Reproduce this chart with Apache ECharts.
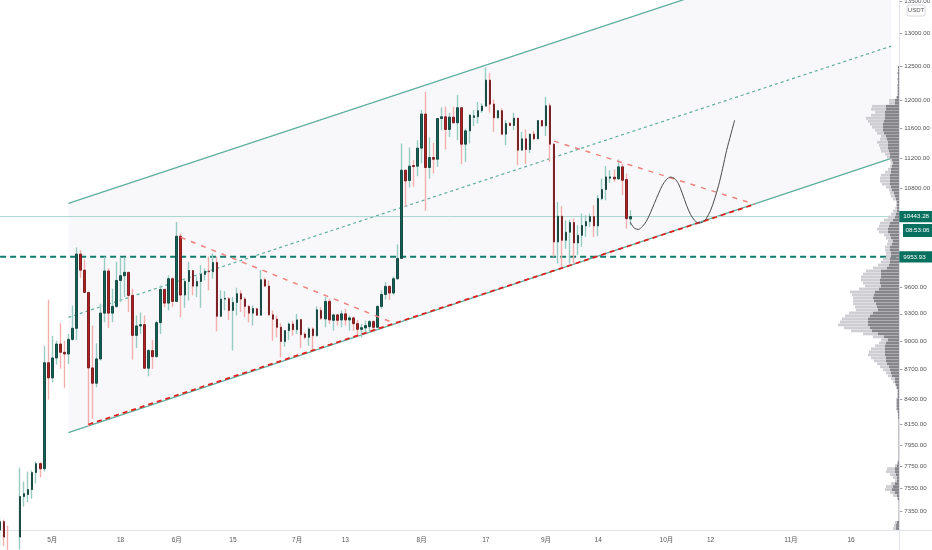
<!DOCTYPE html>
<html><head><meta charset="utf-8">
<style>html,body{margin:0;padding:0;background:#fff}#c{width:932px;height:550px}</style>
<script src="https://cdn.jsdelivr.net/npm/echarts@6/dist/echarts.min.js"></script>
</head><body><div id="c"></div>
<script>
const opens=[7185,7257,7125,6845,6860,7125,7478,7495,7540,7695,7777,7730,8772,8615,8822,8970,8882,8864,9020,9140,9987,9797,9540,8718,8560,8812,9307,9787,9307,9382,9677,9732,9771,9506,9063,9166,9180,8715,8900,8836,9202,9574,9419,9697,9438,10201,9510,9665,9793,9612,9665,9748,9787,9779,9887,9272,9464,9468,9337,9427,9525,9464,9382,9307,9355,9284,9685,9612,9288,9240,9151,8998,9115,9187,9125,9235,9078,9042,9133,9060,9337,9243,9438,9228,9287,9232,9299,9232,9254,9191,9129,9144,9158,9213,9151,9382,9517,9609,9533,9697,9935,11038,10903,11099,11090,11332,11802,11073,11206,11183,11740,11764,11587,11759,11680,11892,11386,11568,11755,11764,11850,11915,12290,11943,11750,11850,11523,11671,11643,11745,11305,11458,11314,11523,11458,11712,11638,11920,11386,10132,10447,10152,10250,10369,10120,10213,10328,10381,10443,10328,10670,10786,10933,10946,10924,11082,10915,10414];
const closes=[7257,7125,6845,6860,7125,7478,7503,7540,7695,7777,7730,8772,8615,8822,8970,8882,8864,9020,9140,9987,9797,9540,8718,8560,8812,9307,9787,9307,9382,9677,9732,9771,9506,9063,9166,9180,8715,8900,8836,9202,9574,9419,9697,9438,10201,9510,9665,9793,9612,9665,9748,9783,9779,9887,9272,9464,9472,9337,9427,9525,9464,9382,9307,9359,9284,9685,9612,9288,9240,9151,8998,9115,9187,9125,9232,9071,9042,9133,9060,9344,9250,9438,9232,9287,9228,9299,9232,9254,9191,9129,9147,9170,9213,9151,9382,9517,9609,9533,9697,9935,11038,10897,11091,11086,11332,11802,11073,11206,11183,11740,11764,11587,11759,11680,11892,11386,11568,11788,11778,11850,11915,12290,11943,11750,11850,11523,11671,11643,11745,11305,11458,11314,11523,11458,11712,11638,11920,11386,10132,10447,10152,10250,10369,10120,10213,10332,10381,10443,10328,10670,10786,10950,10950,10924,11082,10906,10418,10443];
const lows=[7050,7050,6760,6800,6835,7020,7388,7427,7458,7594,7651,7704,8394,8570,8753,8708,8513,8760,9005,9012,9708,9533,8123,8204,8519,8794,9206,9144,9206,9366,9430,9487,9318,8805,8928,9078,8708,8632,8708,8829,9078,9374,9337,9374,9430,9262,9366,9449,9506,9487,9366,9677,9563,9697,9107,9262,9337,9232,8900,9280,9318,9262,9206,9170,9280,9280,9601,9280,9005,9042,8829,8942,9012,9060,9078,8928,9023,8952,8907,9049,9232,9151,9187,9115,9170,9151,9170,9115,9115,9042,9042,9078,9104,9104,9144,9355,9460,9457,9517,9685,9927,10565,10812,10820,10959,11126,10515,10928,10994,11082,11577,11314,11486,11671,11440,11117,11148,11395,11633,11671,11821,11906,11821,11554,11740,11510,11372,11638,11577,11104,11305,11117,11269,11440,11458,11624,11496,11148,9955,9875,9836,10050,9875,9875,9975,10073,10193,10315,10193,10201,10649,10649,10872,10885,10915,10713,10294,10336];
const highs=[7293,7275,7222,6940,7170,7740,7612,7704,7715,7796,7790,8952,9457,9060,9005,9195,9005,9078,9393,10066,10034,9923,9545,9170,8977,9412,9955,9817,9582,9895,9947,9947,9777,9582,9280,9314,9280,8917,9012,9224,9620,9582,9736,9716,10377,10233,9697,9895,9797,9724,9856,9817,9955,9994,9955,9563,9555,9487,9487,9593,9563,9487,9400,9393,9366,9797,9708,9677,9337,9280,9195,9122,9206,9224,9299,9243,9096,9151,9151,9382,9374,9487,9468,9299,9299,9337,9355,9280,9269,9232,9187,9224,9232,9232,9393,9563,9658,9620,9724,10104,11395,11038,11341,11170,11440,11859,12121,11477,11404,11745,11896,11906,11821,11906,12072,11892,11600,11795,11859,11976,11953,12478,12389,12010,11859,11882,11717,11694,11821,11745,11555,11587,11530,11568,11717,11717,12048,11953,11395,10628,10573,10397,10405,10418,10336,10481,10460,10481,10586,10713,10928,11091,11038,11047,11179,11126,10993,10523];

const priceTicks=[13500,13000,12500,12000,11600,11200,10800,9600,9300,9000,8700,8400,8150,7950,7750,7550,7350];
const xTickDates=['2020-05-01','2020-05-18','2020-06-01','2020-06-15','2020-07-01','2020-07-13','2020-08-01','2020-08-17','2020-09-01','2020-09-14','2020-10-01','2020-10-12','2020-11-01','2020-11-16'];
const xTickLabels=['5月','18','6月','15','7月','13','8月','17','9月','14','10月','12','11月','16'];

const lastPrice=10443.28, levelPrice=9953.93, countdown='08:53:06', quote='USDT';
// [day index, price] anchor points of the drawn annotations
const channelLower=[[17,8070],[222,11193]];
const channelUpper=[[17,10610],[222,14685]];
const channelMid=[[17,9260],[222,12799]];
const redSupport=[[22,8149],[188,10598]];
const redFallA=[[45,10188],[98,9199]];
const redFallB=[[138,11427],[188,10598]];
const forecast=[[157,10372],[158,10300],[159,10285],[160,10320],[161,10385],[162,10490],[163,10610],[164,10730],[165,10841],[166,10915],[167,10947],[168,10930],[169,10860],[170,10730],[171,10586],[172,10470],[173,10397],[174,10365],[175,10372],[176,10425],[177,10521],[178,10665],[179,10841],[180,11060],[181,11303],[182,11510],[183,11717]];

// visible-range volume profile, top row first
const vpTotal=[0,0,0,0,0,0,0,0,0,0,0,0,0,0,0,0,0,0,0,0,0,0,1,1,2,1,2,1,2,2,2,2,3,10,10,27,28,24,28,33,31,29,27,24,22,18,19,22,20,19,18,14,12,9,8,9,11,14,18,19,19,17,13,10,9,8,6,3,3,4,6,8,11,15,19,20,22,20,15,13,11,12,14,14,13,13,16,18,21,26,33,36,38,38,36,34,40,49,47,46,46,46,44,43,50,54,57,59,61,55,48,36,26,18,20,24,28,30,31,28,25,22,19,16,13,11,8,6,4,3,2,2,2,3,3,3,3,2,1,1,1,1,1,1,1,1,1,1,1,1,1,1,1,1,2,4,12,13,9,6,4,8,13,14,9,6,2,1,1,1,1,1,1,1,4,5,6];
const vpDark=[0,0,0,0,0,0,0,0,0,0,0,0,0,0,0,0,0,0,0,0,0,0,1,1,1,1,1,1,1,1,1,1,2,4,4,13,13,14,14,14,15,16,16,16,15,13,12,11,11,11,10,9,9,7,6,7,8,8,9,9,9,9,8,7,5,4,3,2,2,2,2,3,4,6,9,10,11,11,9,8,6,7,9,9,8,8,9,9,10,12,18,18,18,19,19,18,20,24,25,26,25,23,22,21,26,29,31,31,31,29,27,21,15,11,13,14,14,14,14,13,13,12,10,9,8,7,4,4,3,2,1,1,1,2,2,2,2,1,1,1,0.6,0.6,0.6,0.6,0.6,0.6,0.6,0.6,0.6,0.6,0.6,0.6,0.6,0.6,1,2,4,4,3,2,2,4,6,7,4,2,1,0.5,0.5,0.5,0.5,0.5,0.5,0.5,2,3,3];
const vpLight=vpTotal.map((t,i)=>Math.max(t-vpDark[i],0));
const vpRows=vpTotal.map((_,i)=>'r'+i);

const dates=[];
{const d=new Date(Date.UTC(2020,3,18));for(let i=0;i<225;i++){dates.push(d.toISOString().slice(0,10));d.setUTCDate(d.getUTCDate()+1);}}

const UP='#0c6457',DOWN='#b5201f',UPW='#98cbc2',DOWNW='#f4aeac',TEAL='#5fae9f',TAG='#08705f';
const sans="'Liberation Sans','Noto Sans CJK SC',sans-serif";
const wickData=opens.map((o,i)=>[o,closes[i],lows[i],highs[i]]);
const bodyData=opens.map((o,i)=>[o,closes[i],Math.min(o,closes[i]),Math.max(o,closes[i])]);
const endIdx=dates.length-1;

function line(data,color,width,type,z,extra){
  return Object.assign({type:'line',xAxisIndex:0,yAxisIndex:0,data,showSymbol:false,symbol:'none',silent:true,
    lineStyle:{color,width,type},z},extra||{});
}
function tag(text){
  return {show:true,formatter:text,distance:0,color:'#fff',backgroundColor:TAG,fontFamily:sans,fontSize:6.2,
    padding:[3,3,2,4],width:26,align:'left'};
}

const chart=echarts.init(document.getElementById('c'),null,{renderer:'canvas'});
chart.setOption({
  animation:false,backgroundColor:'#fff',
  grid:[
    {left:-1.89,top:0,width:903.15,height:530,outerBoundsMode:'none'},
    {left:779,top:0,width:120,height:530,outerBoundsMode:'none'}
  ],
  xAxis:[
    {type:'category',gridIndex:0,data:dates,boundaryGap:true,
      axisLine:{show:false},axisTick:{show:false},splitLine:{show:false},
      axisLabel:{show:true,interval:(i,v)=>xTickDates.includes(v),
        formatter:v=>xTickLabels[xTickDates.indexOf(v)]||'',color:'#555',fontSize:6.5,fontFamily:sans,margin:7,hideOverlap:false}},
    {type:'value',gridIndex:1,inverse:true,min:0,max:120,show:false}
  ],
  yAxis:[
    {type:'log',logBase:10,gridIndex:0,position:'right',min:7185,max:13523,offset:-1.96,
      axisLine:{show:false},splitLine:{show:false},minorTick:{show:false},minorSplitLine:{show:false},
      axisTick:{show:true,length:3,lineStyle:{color:'#9a9ea8',width:1},customValues:priceTicks},
      axisLabel:{color:'#555',fontSize:6.2,fontFamily:sans,margin:5,customValues:priceTicks,formatter:v=>Number(v).toFixed(2)}},
    {type:'category',gridIndex:1,data:vpRows,inverse:true,show:false}
  ],
  series:[
    {type:'custom',xAxisIndex:0,yAxisIndex:0,z:1,silent:true,clip:true,data:[[channelLower[0][0],channelLower[0][1]]],
      renderItem:(p,api)=>{
        const pts=[channelLower[0],channelLower[1],channelUpper[1],channelUpper[0]].map(a=>api.coord(a));
        return {type:'polygon',shape:{points:pts},style:{fill:'#f8f8fb'}};
      }},
    line(channelLower,TEAL,1.3,'solid',3),
    line(channelUpper,TEAL,1.3,'solid',3),
    line(channelMid,TEAL,1.2,[3,3],3),
    line([[0,lastPrice],[endIdx,lastPrice]],'#a9d6ce',1,'solid',3,{endLabel:tag('10443.28')}),
    line([[0,levelPrice],[endIdx,levelPrice]],'#0f7b6c',2,[6,4],3,{endLabel:tag('9953.93')}),
    {type:'candlestick',xAxisIndex:0,yAxisIndex:0,z:4,barWidth:1,silent:true,data:wickData,
      itemStyle:{color:UPW,color0:DOWNW,borderColor:UPW,borderColor0:DOWNW,borderWidth:1.4}},
    {type:'candlestick',xAxisIndex:0,yAxisIndex:0,z:5,barWidth:2,silent:true,data:bodyData,
      itemStyle:{color:UP,color0:DOWN,borderColor:'#1c4a44',borderColor0:'#7a2226',borderWidth:1}},
    line(redSupport,'#e0201e',1.8,[5,4],6),
    line(redFallA,'#f0837d',1.5,[5,6],6),
    line(redFallB,'#f0837d',1.5,[5,6],6),
    line(forecast,'#4a4a4a',1,'solid',7,{smooth:0.3}),
    {type:'bar',xAxisIndex:1,yAxisIndex:1,stack:'vp',data:vpDark,barWidth:2.8,silent:true,z:8,itemStyle:{color:'#85858a'}},
    {type:'bar',xAxisIndex:1,yAxisIndex:1,stack:'vp',data:vpLight,barWidth:2.8,silent:true,z:8,itemStyle:{color:'#cfcfd3'}}
  ],
  graphic:[
    {type:'line',silent:true,z:2,shape:{x1:899.5,y1:0,x2:899.5,y2:550},style:{stroke:'#e0e3eb',lineWidth:1}},
    {type:'line',silent:true,z:2,shape:{x1:0,y1:530.5,x2:932,y2:530.5},style:{stroke:'#e0e3eb',lineWidth:1}},
    {type:'group',silent:true,z:20,children:[
      {type:'rect',shape:{x:903,y:224,width:29,height:13},style:{fill:TAG}},
      {type:'text',style:{x:917.5,y:230.5,text:countdown,fill:'#fff',font:"6.2px 'Liberation Sans',sans-serif",align:'center',verticalAlign:'middle'}},
      {type:'rect',shape:{x:907,y:5,width:18,height:11,r:2},style:{fill:'#fff',stroke:'#d5d8e0',lineWidth:1}},
      {type:'text',style:{x:916,y:10.5,text:quote,fill:'#555',font:"6px 'Liberation Sans',sans-serif",align:'center',verticalAlign:'middle'}}
    ]}
  ]
});
</script></body></html>
